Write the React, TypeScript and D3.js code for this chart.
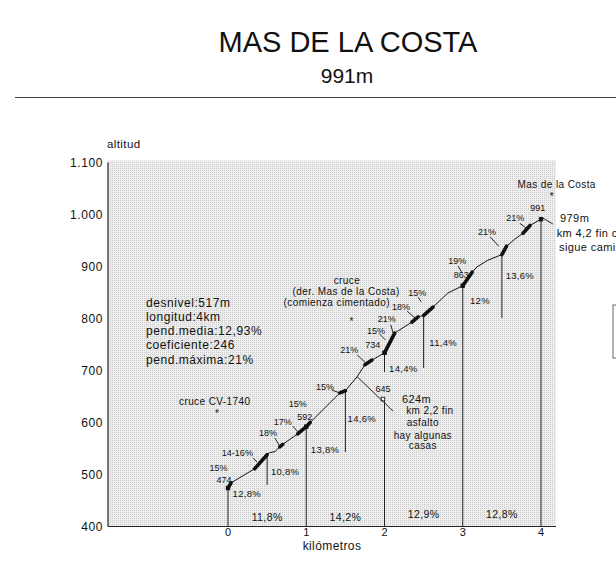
import React from 'react';
import * as d3 from 'd3';

const W = 616;
const H = 564;
const FONT = '"Liberation Sans", Arial, Helvetica, sans-serif';

// axis ticks
const yTicks = [400, 500, 600, 700, 800, 900, 1000, 1100];
const xTicks = [0, 1, 2, 3, 4];

// profile: [km, altitude m]
const profile: [number, number][] = [
  [0, 474], [0.04, 484], [0.34, 511], [0.5, 538], [0.53, 542], [0.6, 544],
  [0.66, 553], [0.7, 558], [0.89, 578], [1, 592], [1.05, 600], [1.43, 657],
  [1.5, 661], [1.65, 688], [1.75, 711], [1.84, 720], [2, 734], [2.13, 772],
  [2.35, 793], [2.43, 803], [2.5, 806], [2.62, 822], [2.81, 849], [3, 863],
  [3.12, 889], [3.18, 899], [3.32, 912], [3.5, 923], [3.56, 939], [3.66, 952],
  [3.77, 964], [3.86, 979], [4, 991]
];

// steep stretches drawn thick [from km, to km]
const steep: [number, number][] = [
  [0, 0.04], [0.34, 0.5], [0.66, 0.7], [0.89, 1.05], [1.43, 1.5], [1.75, 1.84],
  [2, 2.13], [2.35, 2.43], [2.5, 2.62], [3, 3.12], [3.5, 3.56], [3.77, 3.86]
];

// vertical drop lines at every half km
const dropKm = [0, 0.5, 1, 1.5, 2, 2, 2.5, 3, 3.5, 4];
const dropTop = [474, 538, 592, 661, 734, 645, 806, 863, 923, 991];
const dropBottom = [400, 480, 400, 543, 697, 400, 705, 400, 801, 400];

// slope labels along the climb [text, km, alt]
const slopeLabels: [string, number, number][] = [
  ['15%', -0.12, 512], ['474', -0.05, 489], ['14-16%', 0.12, 541],
  ['18%', 0.51, 580], ['17%', 0.7, 601], ['15%', 0.89, 636], ['592', 0.98, 611],
  ['15%', 1.24, 668], ['21%', 1.55, 739], ['734', 1.85, 749], ['15%', 1.89, 776],
  ['21%', 2.03, 799], ['18%', 2.21, 822], ['15%', 2.42, 849], ['645', 1.98, 664],
  ['19%', 2.93, 911], ['863', 2.98, 884], ['21%', 3.31, 966], ['21%', 3.67, 993],
  ['991', 3.96, 1012]
];

// half km averages [text, km, alt]
const halfKmLabels: [string, number, number][] = [
  ['12,8%', 0.24, 464], ['10,8%', 0.73, 505], ['13,8%', 1.24, 547],
  ['14,6%', 1.71, 607], ['14,4%', 2.24, 703], ['11,4%', 2.75, 753],
  ['12%', 3.22, 834], ['13,6%', 3.73, 882]
];

// per km averages
const kmAvg = ['11,8%', '14,2%', '12,9%', '12,8%'];
const kmAvgAlt = [418, 418, 424, 424];

// leader lines [km1, alt1, km2, alt2]
const leaders: [number, number, number, number][] = [
  [0.32, 532, 0.37, 524], [0.6, 570, 0.66, 555], [0.83, 593, 0.89, 582],
  [1.33, 662, 1.43, 657], [1.65, 730, 1.75, 716], [1.94, 770, 2.01, 759],
  [2.08, 788, 2.11, 772], [2.29, 814, 2.39, 801], [2.43, 841, 2.47, 832],
  [2.94, 901, 2.99, 888], [3.35, 957, 3.46, 939], [3.73, 983, 3.81, 974],
  [4, 995, 4.15, 982], [1.65, 688, 2.11, 622]
];

// notes [text, km, alt, anchor]
const notes: [string, number, number, string][] = [
  ['cruce CV-1740', -0.17, 641, 'middle'], ['*', -0.14, 618, 'middle'],
  ['cruce', 1.52, 874, 'middle'], ['(der. Mas de la Costa)', 1.51, 851, 'middle'],
  ['(comienza cimentado)', 1.39, 830, 'middle'], ['*', 1.58, 795, 'middle'],
  ['624m', 2.41, 645, 'middle'], ['km 2,2 fin', 2.58, 624, 'middle'],
  ['asfalto', 2.49, 600, 'middle'], ['hay algunas', 2.49, 575, 'middle'],
  ['casas', 2.49, 555, 'middle'],
  ['Mas de la Costa', 4.2, 1057, 'middle'], ['*', 4.14, 1035, 'middle'],
  ['979m', 4.43, 993, 'middle'], ['km 4,2 fin cimentado', 4.2, 964, 'start'],
  ['sigue camino', 4.23, 937, 'start']
];
const largeNotes = ['624m', '979m', 'km 4,2 fin cimentado', 'sigue camino'];

const stats = ['desnivel:517m', 'longitud:4km', 'pend.media:12,93%', 'coeficiente:246', 'pend.máxima:21%'];
const statsAlt = [831, 803, 776, 749, 721];

const markKm = [0, 1, 2, 3, 4, 1.98];
const markAlt = [474, 592, 734, 863, 991, 645];

export default function App() {
  const x = d3.scaleLinear().domain([0, 4]).range([228, 541]);
  const y = d3.scaleLinear().domain([400, 1100]).range([526.5, 162.5]);
  const plotLeft = 108;
  const plotRight = 556;

  const line = d3.line<[number, number]>().x(d => x(d[0])).y(d => y(d[1]));

  return (
    <svg width={W} height={H} style={{ position: 'absolute', left: 0, top: 0, background: '#fff' }}
      fontFamily={FONT}>
      <defs>
        <pattern id="dots" width="2" height="2" patternUnits="userSpaceOnUse">
          <rect width="2" height="2" fill="#eeeeee" />
          <rect width="1" height="1" fill="#cccccc" />
        </pattern>
      </defs>

      {/* title */}
      <text x={348} y={52} textAnchor="middle" fontSize={29} fill="#111">MAS DE LA COSTA</text>
      <text x={347} y={83} textAnchor="middle" fontSize={21} fill="#111">991m</text>
      <line x1={15} x2={616} y1={97.5} y2={97.5} stroke="#444" strokeWidth={1.2} />

      {/* plot background */}
      <rect x={plotLeft} y={y(1100) - 2} width={plotRight - plotLeft} height={y(400) - y(1100) + 2} fill="url(#dots)" />
      <line x1={plotLeft} x2={plotLeft} y1={y(1100)} y2={y(400)} stroke="#222" strokeWidth={1.2} />
      <line x1={plotLeft} x2={plotRight} y1={y(400)} y2={y(400)} stroke="#222" strokeWidth={1.2} />

      {/* y axis */}
      <text x={107} y={148} fontSize={11.5} letterSpacing={0.4} fill="#111">altitud</text>
      {yTicks.map(t => (
        <text key={t} x={103} y={y(t)} dy="0.35em" textAnchor="end" fontSize={12} letterSpacing={0.6} fill="#111">
          {d3.format(',')(t).replace(',', '.')}
        </text>
      ))}

      {/* x axis */}
      {xTicks.map(t => (
        <text key={t} x={x(t)} y={536} textAnchor="middle" fontSize={11} fill="#111">{t}</text>
      ))}
      <text x={332} y={550} textAnchor="middle" fontSize={12} letterSpacing={0.4} fill="#111">kilómetros</text>

      {/* drop lines */}
      {dropKm.map((k, i) => (
        <line key={i} x1={x(k)} x2={x(k)} y1={y(dropTop[i])} y2={y(dropBottom[i])} stroke="#222" strokeWidth={1} />
      ))}

      {/* profile */}
      <path d={line(profile) ?? ''} fill="none" stroke="#111" strokeWidth={1} />
      {steep.map(([a, b], i) => (
        <path key={i} d={line(profile.filter(p => p[0] >= a && p[0] <= b)) ?? ''} fill="none"
          stroke="#111" strokeWidth={3.6} strokeLinecap="round" />
      ))}
      {markKm.map((k, i) => (
        <rect key={i} x={x(k) - 1.8} y={y(markAlt[i]) - 1.8} width={3.6} height={3.6}
          fill={i === 5 ? '#fff' : '#111'} stroke="#111" strokeWidth={0.8} />
      ))}

      {/* leaders */}
      {leaders.map((l, i) => (
        <line key={i} x1={x(l[0])} y1={y(l[1])} x2={x(l[2])} y2={y(l[3])} stroke="#111" strokeWidth={0.9} />
      ))}

      {/* labels */}
      {slopeLabels.map(([t, k, a], i) => (
        <text key={i} x={x(k)} y={y(a)} dy="0.35em" textAnchor="middle" fontSize={9} fill="#111">{t}</text>
      ))}
      {halfKmLabels.map(([t, k, a], i) => (
        <text key={i} x={x(k)} y={y(a)} dy="0.35em" textAnchor="middle" fontSize={9.5} letterSpacing={0.3} fill="#111">{t}</text>
      ))}
      {kmAvg.map((t, i) => (
        <text key={i} x={x(i + 0.5)} y={y(kmAvgAlt[i])} dy="0.35em" textAnchor="middle" fontSize={10.5} letterSpacing={0.4} fill="#111">{t}</text>
      ))}
      {notes.map(([t, k, a, anchor], i) => (
        <text key={i} x={x(k)} y={y(a)} dy="0.35em" textAnchor={anchor}
          fontSize={largeNotes.includes(t) ? 11 : 10} letterSpacing={0.4} fill="#111">{t}</text>
      ))}
      {stats.map((t, i) => (
        <text key={i} x={146} y={y(statsAlt[i])} dy="0.35em" fontSize={12} letterSpacing={0.55} fill="#111">{t}</text>
      ))}

      {/* clipped legend box at right edge */}
      <rect x={613} y={305} width={20} height={53} fill="none" stroke="#666" strokeWidth={1} />
    </svg>
  );
}
